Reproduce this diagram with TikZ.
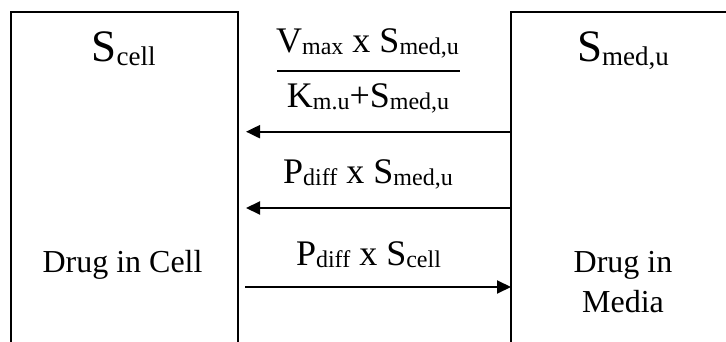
\documentclass[tikz,border=0pt]{standalone}
\usepackage{fontspec}
\setmainfont{Liberation Serif}
\usetikzlibrary{arrows.meta}
\newcommand{\topsub}[1]{\raisebox{-3.3pt}{\fontsize{27}{30}\selectfont #1}}
\newcommand{\arrsub}[1]{\raisebox{-2pt}{\fontsize{24}{28}\selectfont #1}}
\tikzset{
  boxnode/.style={draw, line width=2pt, inner sep=0pt, outer sep=0pt, rectangle},
  toplabel/.style={anchor=base, inner sep=0pt, font=\fontsize{45}{50}\selectfont},
  arrlabel/.style={anchor=base, inner sep=0pt, font=\fontsize{36}{40}\selectfont},
  bodytext/.style={anchor=base, inner sep=0pt, font=\fontsize{32}{40}\selectfont},
  flow/.style={line width=2pt, -{Triangle[length=14pt,width=13pt]}},
  fracbar/.style={line width=2.5pt},
}
\begin{document}
\begin{tikzpicture}[x=1pt,y=-1pt]
\useasboundingbox (0,0) rectangle (726,342);
\clip (0,0) rectangle (726,342);
\node[boxnode, minimum width=226.5pt, minimum height=360pt] (cell) at (124.25,192) {};
\node[boxnode, minimum width=280pt, minimum height=360pt] (media) at (651,192) {};
\node[toplabel] (scell) at (123.5,62) {S\topsub{cell}};
\node[toplabel] (smed) at (623,62) {S\topsub{med,u}};
\node[arrlabel] (num) at (367.5,53) {V\arrsub{max} x S\arrsub{med,u}};
\draw[fracbar] (277,71) -- (460,71);
\node[arrlabel] (den) at (368,108) {K\arrsub{m.u}+S\arrsub{med,u}};
\node[arrlabel] (pin) at (368,183) {P\arrsub{diff} x S\arrsub{med,u}};
\node[arrlabel] (pout) at (368.5,265) {P\arrsub{diff} x S\arrsub{cell}};
\node[bodytext] (dcell) at (122.5,272) {Drug in Cell};
\node[bodytext] (dmed1) at (623,272) {Drug in};
\node[bodytext] (dmed2) at (623,312) {Media};
\draw[flow] (media.west |- 0,131.7) -- ([xshift=8.5pt]cell.east |- 0,131.7);
\draw[flow] (media.west |- 0,208) -- ([xshift=8.5pt]cell.east |- 0,208);
\draw[flow] ([xshift=7.5pt]cell.east |- 0,287) -- (media.west |- 0,287);
\end{tikzpicture}
\end{document}
